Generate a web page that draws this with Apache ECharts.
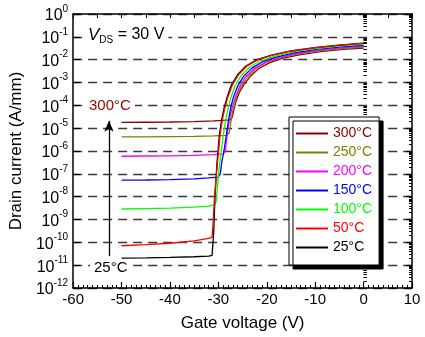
<!DOCTYPE html>
<html><head><meta charset="utf-8">
<script src="https://cdn.jsdelivr.net/npm/echarts@6/dist/echarts.min.js"></script>
<style>html,body{margin:0;padding:0;background:#fff}#c{width:425px;height:337px}</style>
</head><body><div id="c"></div>
<script>
// ---- data ----
const seriesNames  = ['300°C','250°C','200°C','150°C','100°C','50°C','25°C'];
const seriesColors = ['#8B0000','#808000','#FF00FF','#0000FF','#00FF00','#FF0000','#000000'];

const vg300 = [-50,-45,-40,-35,-31,-27.6,-27.1,-26.8,-26.4,-25.7,-24.7,-23.4,-21.7,-19.5,-16.6,-13.0,-8.5,-4.2,0];
const id300 = [1.78e-5,1.82e-5,1.86e-5,1.95e-5,2.09e-5,2.29e-5,3.16e-5,6.31e-5,1.41e-4,3.55e-4,8.32e-4,1.86e-3,3.98e-3,7.24e-3,1.17e-2,1.66e-2,2.29e-2,2.82e-2,3.24e-2];

const vg250 = [-50,-45,-40,-35,-31,-28.3,-27.75,-27.45,-27.1,-26.6,-26.1,-25.2,-24.0,-22.3,-20.1,-17.2,-13.5,-8.8,-4.3,0];
const id250 = [4.17e-6,4.17e-6,4.27e-6,4.37e-6,4.57e-6,4.79e-6,6.31e-6,1.58e-5,5.01e-5,1.26e-4,3.16e-4,7.08e-4,1.74e-3,3.98e-3,7.59e-3,1.23e-2,1.78e-2,2.51e-2,3.02e-2,3.55e-2];

const vg200 = [-50,-45,-40,-35,-31,-29,-28.55,-28.3,-28.0,-27.6,-27.1,-26.5,-25.6,-24.4,-22.6,-20.3,-17.3,-13.6,-8.9,-4.4,0];
const id200 = [5.89e-7,6.03e-7,6.17e-7,6.46e-7,6.92e-7,7.41e-7,1.0e-6,3.16e-6,1.0e-5,3.16e-5,8.91e-5,2.24e-4,6.76e-4,1.78e-3,4.07e-3,7.76e-3,1.26e-2,1.91e-2,2.69e-2,3.31e-2,3.89e-2];

const vg150 = [-50,-45,-40,-35,-32,-30.0,-29.6,-29.3,-28.85,-28.2,-27.8,-27.4,-26.9,-26.0,-24.8,-23.1,-20.9,-17.9,-14.1,-9.3,-4.6,0];
const id150 = [5.25e-8,5.37e-8,5.62e-8,6.03e-8,6.61e-8,7.24e-8,1.0e-7,3.16e-7,1.0e-6,8.13e-6,3.16e-5,8.91e-5,2.24e-4,7.08e-4,1.86e-3,4.27e-3,8.13e-3,1.32e-2,2.04e-2,2.88e-2,3.63e-2,4.27e-2];

const vg100 = [-50,-45,-40,-35,-32,-30.8,-30.45,-29.95,-29.4,-28.85,-28.4,-27.95,-27.4,-26.5,-25.3,-23.6,-21.4,-18.5,-14.6,-9.7,-4.8,0];
const id100 = [2.88e-9,3.02e-9,3.16e-9,3.47e-9,3.89e-9,4.37e-9,6.31e-9,1.0e-7,1.0e-6,7.94e-6,2.82e-5,7.94e-5,2.24e-4,7.59e-4,2.0e-3,4.68e-3,8.91e-3,1.41e-2,2.19e-2,3.09e-2,3.98e-2,4.68e-2];

const vg50 = [-50,-45,-40,-35,-32,-31.3,-31.05,-30.8,-30.2,-29.65,-29.15,-28.65,-28.05,-27.1,-25.8,-24.1,-21.8,-18.8,-14.9,-10.0,-5.1,0];
const id50 = [7.08e-11,7.94e-11,9.12e-11,1.15e-10,1.48e-10,1.7e-10,1.0e-9,1.0e-8,2.82e-7,5.01e-6,2.51e-5,7.94e-5,2.24e-4,7.94e-4,2.24e-3,5.25e-3,1.0e-2,1.58e-2,2.4e-2,3.39e-2,4.37e-2,5.19e-2];

const vg25 = [-50,-45,-40,-35,-32,-31.3,-31.1,-30.95,-30.7,-30.3,-29.8,-29.3,-28.8,-28.2,-27.3,-26.0,-24.3,-22.0,-19.0,-15.0,-10.0,-5.0,0];
const id25 = [2.04e-11,2.09e-11,2.19e-11,2.34e-11,2.51e-11,2.69e-11,2.82e-11,3.16e-10,1.0e-8,2.82e-7,5.01e-6,2.51e-5,7.94e-5,2.24e-4,7.94e-4,2.24e-3,5.25e-3,1.0e-2,1.58e-2,2.4e-2,3.39e-2,4.37e-2,5.25e-2];

// axes
const xMin = -60, xMax = 10, xStep = 10, xTopStep = 5;
const yMin = 1e-12, yMax = 1;
// annotation arrow (gate voltage, from current, to current)
const arrowV = -52.6, arrowFrom = 2.5e-11, arrowTo = 2.1e-5;
const vdsLabel = 'V', vdsSub = 'DS', vdsRest = ' = 30 V';
const hotLabel = '300°C', coldLabel = '25°C';

// ---- build ----
const FF = '"Liberation Sans", Arial, sans-serif';
const curves = [[vg300,id300],[vg250,id250],[vg200,id200],[vg150,id150],[vg100,id100],[vg50,id50],[vg25,id25]];
const zOrder = [3, 4, 5, 6, 7, 9, 8];
const minorVals = [];
for (let e = -12; e < 0; e++) for (let k = 2; k <= 9; k++) minorVals.push(+(k * Math.pow(10, e)).toPrecision(3));

const series = seriesNames.map((n, i) => ({
  name: n, type: 'line', xAxisIndex: 0, yAxisIndex: 0,
  data: curves[i][0].map((v, j) => [v, curves[i][1][j]]),
  symbol: 'none', showSymbol: false, smooth: false,
  lineStyle: { width: 1.3, color: seriesColors[i] },
  itemStyle: { color: seriesColors[i] },
  z: zOrder[i], animation: false
}));
series.push({
  name: 'arrow', type: 'line', xAxisIndex: 0, yAxisIndex: 0, data: [], animation: false,
  markLine: {
    silent: true, animation: false, symbol: ['none', 'arrow'], symbolSize: [7, 11],
    label: { show: false },
    lineStyle: { color: '#000', width: 1.3, type: 'solid' },
    data: [[{ coord: [arrowV, arrowFrom] }, { coord: [arrowV, arrowTo] }]]
  }
});

const gridBox = { left: 72, right: 13, top: 14, bottom: 49 };
const axisLineStyle = { color: '#000', width: 1.5 };

const option = {
  animation: false,
  backgroundColor: '#fff',
  grid: [Object.assign({}, gridBox), Object.assign({}, gridBox)],
  xAxis: [
    { type: 'value', gridIndex: 0, position: 'bottom', min: xMin, max: xMax, interval: xStep,
      axisLine: { show: true, onZero: false, lineStyle: axisLineStyle },
      axisTick: { show: true, inside: true, length: 6, lineStyle: { color: '#000', width: 1.2 } },
      minorTick: { show: true, splitNumber: 10, length: 3, lineStyle: { color: '#000', width: 1 } },
      axisLabel: { fontSize: 15, fontFamily: FF, color: '#000', margin: 4 },
      splitLine: { show: false },
      name: 'Gate voltage (V)', nameLocation: 'middle', nameGap: 27,
      nameTextStyle: { fontSize: 17, fontFamily: FF, color: '#000' } },
    { type: 'value', gridIndex: 0, position: 'top', min: xMin, max: xMax, interval: xTopStep,
      axisLine: { show: true, onZero: false, lineStyle: axisLineStyle },
      axisTick: { show: true, inside: true, length: 4, lineStyle: { color: '#000', width: 1 } },
      axisLabel: { show: false }, splitLine: { show: false } },
    { type: 'value', gridIndex: 1, min: xMin, max: xMax, show: false }
  ],
  yAxis: [
    { type: 'log', logBase: 10, gridIndex: 0, position: 'left', min: yMin, max: yMax, interval: 1, splitNumber: 12,
      axisLine: { show: true, onZero: false, lineStyle: axisLineStyle },
      axisTick: { show: true, inside: true, length: 7, lineStyle: { color: '#000', width: 1.2 } },
      axisLabel: { margin: 5, color: '#000',
        formatter: v => '{a|10}{b|' + Math.round(Math.log10(v)) + '}',
        rich: { a: { fontSize: 16, fontFamily: FF, color: '#000', lineHeight: 20, verticalAlign: 'bottom' },
                b: { fontSize: 10, fontFamily: FF, color: '#000', lineHeight: 12, verticalAlign: 'top' } } },
      splitLine: { show: true, lineStyle: { type: [9, 6], color: '#3a3a3a', width: 1.3 } },
      name: 'Drain current (A/mm)', nameLocation: 'middle', nameGap: 40, nameRotate: 90,
      nameTextStyle: { fontSize: 17, fontFamily: FF, color: '#000' } },
    { type: 'log', logBase: 10, gridIndex: 0, position: 'right', min: yMin, max: yMax, interval: 1, splitNumber: 12,
      axisLine: { show: true, onZero: false, lineStyle: axisLineStyle },
      axisTick: { show: true, inside: true, length: 6, lineStyle: { color: '#000', width: 1.2 } },
      axisLabel: { show: false }, splitLine: { show: false } },
    { type: 'log', logBase: 10, gridIndex: 1, position: 'left', min: yMin, max: yMax,
      axisLine: { show: false },
      axisTick: { show: true, inside: true, length: 3.5, customValues: minorVals, lineStyle: { color: '#000', width: 1 } },
      axisLabel: { show: false }, splitLine: { show: false } },
    { type: 'log', logBase: 10, gridIndex: 1, position: 'right', min: yMin, max: yMax,
      axisLine: { show: false },
      axisTick: { show: true, inside: true, length: 3, customValues: minorVals, lineStyle: { color: '#000', width: 1 } },
      axisLabel: { show: false }, splitLine: { show: false } }
  ],
  legend: {
    orient: 'vertical', left: 289, top: 117, selectedMode: false,
    padding: [8, 7, 9, 7], itemGap: 2, itemWidth: 32, itemHeight: 2, icon: 'rect',
    backgroundColor: '#fff', borderColor: '#000', borderWidth: 1,
    shadowColor: '#000', shadowOffsetX: 4, shadowOffsetY: 4, shadowBlur: 0,
    textStyle: { fontSize: 14, fontFamily: FF, lineHeight: 17 },
    data: seriesNames.map((n, i) => ({ name: n, textStyle: { color: seriesColors[i] } }))
  },
  graphic: [
    { type: 'text', left: 86, top: 25, z: 50,
      style: { text: '{i|' + vdsLabel + '}{s|' + vdsSub + '}{n|' + vdsRest + '}',
        backgroundColor: '#fff', padding: [0, 4, 0, 2],
        rich: { i: { fontSize: 17, fontStyle: 'italic', fontFamily: FF, fill: '#000', lineHeight: 20, verticalAlign: 'middle' },
                s: { fontSize: 10, fontFamily: FF, fill: '#000', lineHeight: 12, verticalAlign: 'bottom' },
                n: { fontSize: 16, fontFamily: FF, fill: '#000', lineHeight: 20, verticalAlign: 'middle' } } } },
    { type: 'text', left: 85, top: 97, z: 50,
      style: { text: hotLabel, font: '15px ' + FF, fill: '#990000', backgroundColor: '#fff', padding: [1, 4, 1, 4] } },
    { type: 'text', left: 90, top: 259, z: 50,
      style: { text: coldLabel, font: '15px ' + FF, fill: '#000', backgroundColor: '#fff', padding: [1, 4, 1, 4] } }
  ],
  series: series
};
const chart = echarts.init(document.getElementById('c'), null, { renderer: 'canvas' });
chart.setOption(option);
</script></body></html>
